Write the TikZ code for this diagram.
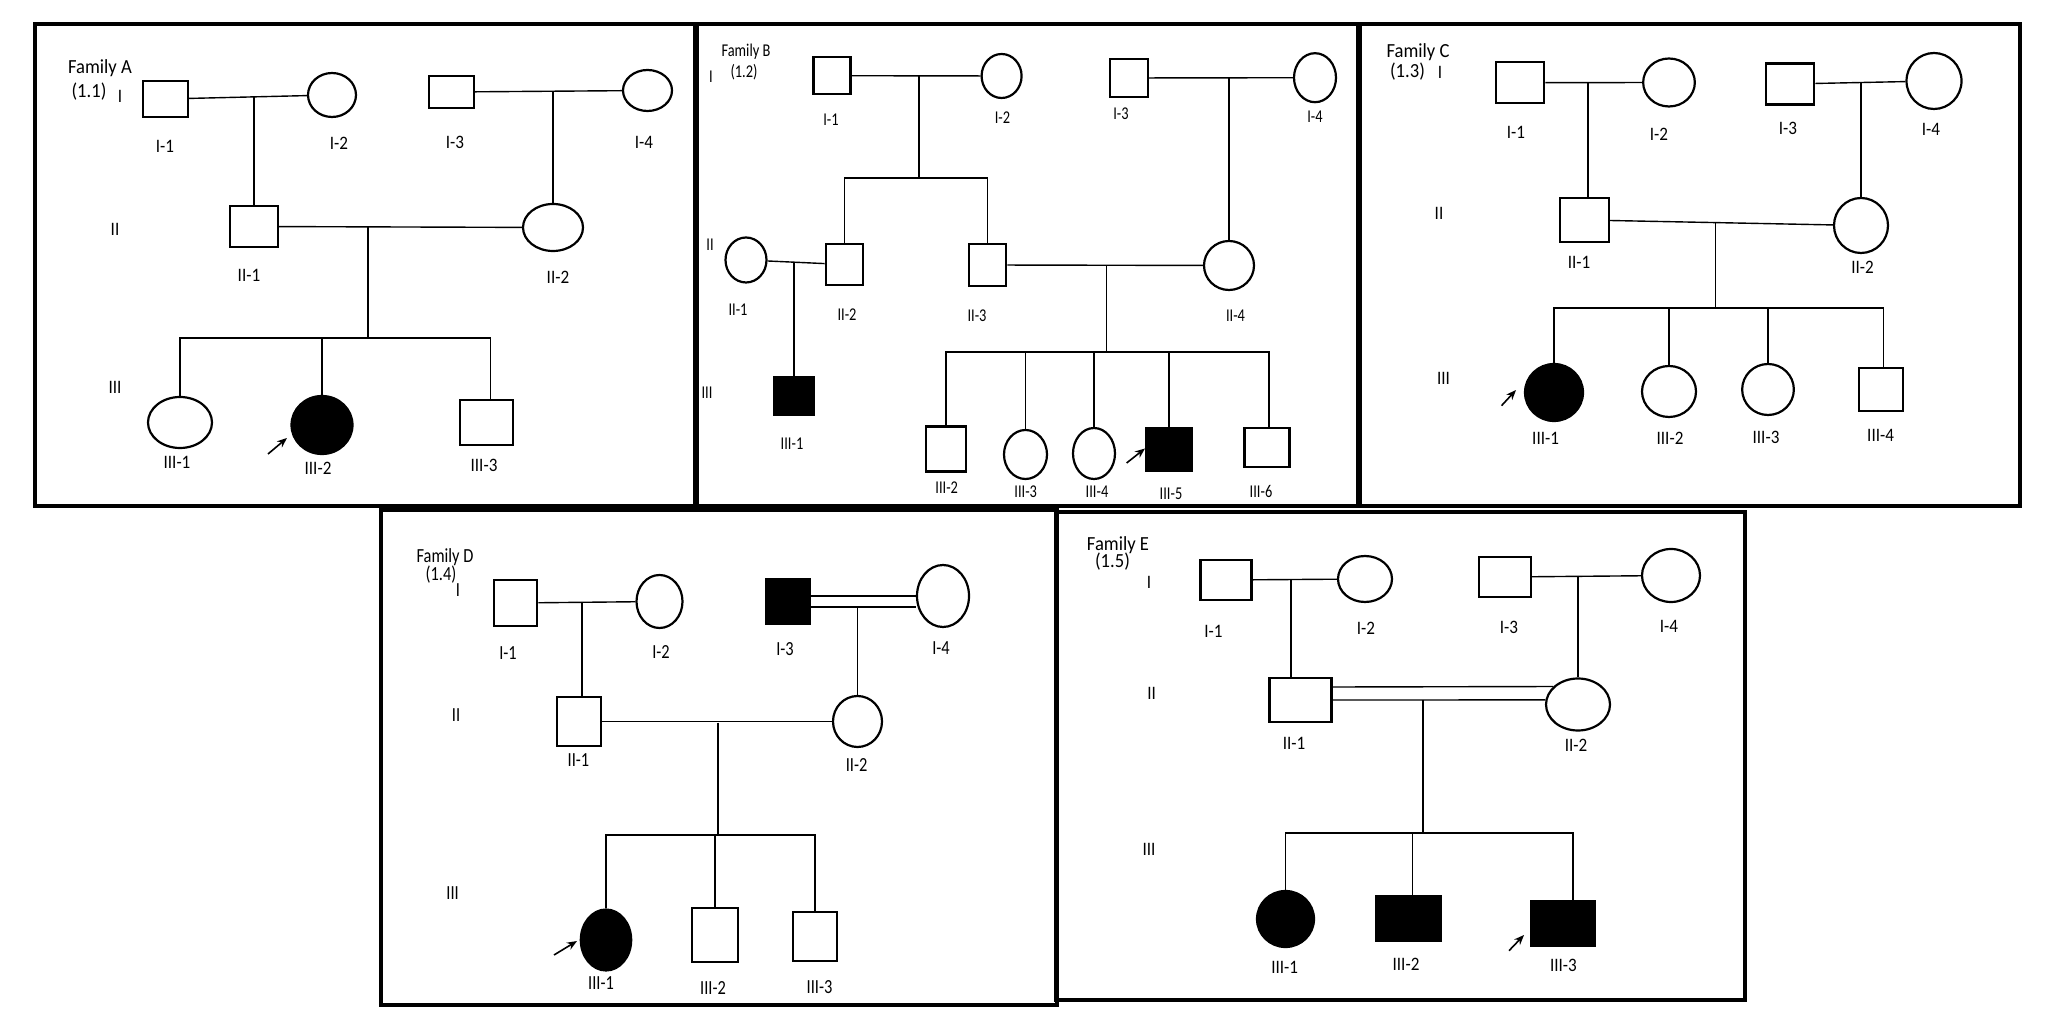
\documentclass[tikz,border=0pt]{standalone}
\usepackage{fontspec}
\setmainfont{Carlito}
\usetikzlibrary{shapes.geometric,arrows.meta}
\begin{document}
\begin{tikzpicture}[x=0.5pt,y=-0.5pt,
  sq/.style 2 args={draw,rectangle,line width=1.1pt,inner sep=0pt,minimum width=#1*0.5pt,minimum height=#2*0.5pt},
  fsq/.style 2 args={sq={#1}{#2},fill=black},
  ci/.style 2 args={draw,ellipse,line width=1.1pt,inner sep=0pt,minimum width=#1*0.5pt,minimum height=#2*0.5pt},
  fci/.style 2 args={ci={#1}{#2},fill=black},
  ln/.style={line width=0.7pt},
  frame/.style={line width=2.3pt},
  arr/.style={line width=0.8pt,-{Stealth[length=5pt,width=4pt]}},
  lbl/.style={inner sep=0pt,font=\fontsize{9.5}{10}\selectfont,xscale=0.9},
  lblB/.style={inner sep=0pt,font=\fontsize{9}{10}\selectfont,xscale=0.8},
  lblD/.style={inner sep=0pt,font=\fontsize{10}{10}\selectfont,xscale=0.82},
  ttl/.style={inner sep=0pt,font=\fontsize{10}{10}\selectfont,xscale=0.93},
]
\useasboundingbox (0,0) rectangle (2055,1020);
% frames
\draw[frame] (35,24) rectangle (695,506);
\draw[frame] (697,24) rectangle (1358,506);
\draw[frame] (1360,24) rectangle (2020,506);
\draw[frame] (381,510) rectangle (1057,1005);
\draw[frame] (1056,512) rectangle (1745,1000);

% ================= Family A =================
\node[ttl] (tA) at (100,68) {Family A};
\node[ttl] (tA2) at (89,92) {(1.1)};
\node[lbl] (gA1) at (120,96) {I};
\node[lbl] (gA2) at (115,229) {II};
\node[lbl] (gA3) at (115,387) {III};
\node[sq={45}{36}] (A11) at (165.5,99) {};
\node[ci={48}{44}] (A12) at (332,95) {};
\node[sq={45}{32}] (A13) at (451.5,92) {};
\node[ci={49}{41}] (A14) at (647.5,90.5) {};
\node[sq={48}{41}] (A21) at (254,226.5) {};
\node[ci={60}{47}] (A22) at (553,227.5) {};
\node[ci={64}{51}] (A31) at (180,422.5) {};
\node[fci={61}{58}] (A32) at (322,425) {};
\node[sq={53}{45}] (A33) at (486.5,422.5) {};
\draw[ln] (A11) -- (A12);
\draw[ln] (A13) -- (A14);
\coordinate (mA1) at (254,97);
\coordinate (mA2) at (553,92);
\draw[ln] (mA1) -- (A21.north);
\draw[ln] (mA2) -- (A22.north);
\draw[ln] (A21) -- (A22);
\coordinate (mA3) at (368,227);
\coordinate (sA) at (368,338);
\draw[ln] (mA3) -- (sA);
\draw[ln] (A31.north) |- (sA);
\draw[ln] (A32.north) |- (sA);
\draw[ln] ([xshift=2pt]A33.north) |- (sA);
\coordinate (arA1) at (268,454);
\coordinate (arA2) at (287,438);
\draw[arr] (arA1) -- (arA2);
\node[lbl] (lA11) at (165,146) {I-1};
\node[lbl] (lA12) at (339,143) {I-2};
\node[lbl] (lA13) at (455,142) {I-3};
\node[lbl] (lA14) at (644,142) {I-4};
\node[lbl] (lA21) at (249,275) {II-1};
\node[lbl] (lA22) at (558,277) {II-2};
\node[lbl] (lA31) at (177,462) {III-1};
\node[lbl] (lA32) at (318,468) {III-2};
\node[lbl] (lA33) at (484,465) {III-3};

% ================= Family B =================
\node[lblB] (tB) at (746,52) {Family B};
\node[lblB] (tB2) at (744,72) {(1.2)};
\node[lblB] (gB1) at (711,77) {I};
\node[lblB] (gB2) at (710,245) {II};
\node[lblB] (gB3) at (707,393) {III};
\node[sq={37}{37}] (B11) at (832,75.7) {};
\node[ci={40}{44}] (B12) at (1001.6,76) {};
\node[sq={37.5}{38}] (B13) at (1129,78) {};
\node[ci={42}{49}] (B14) at (1315,77.7) {};
\node[ci={41}{45}] (B21) at (746,260) {};
\node[sq={37.5}{41}] (B22) at (844.5,264.5) {};
\node[sq={37.5}{42}] (B23) at (987.5,265) {};
\node[ci={50}{49}] (B24) at (1229,265.5) {};
\node[fsq={39}{38}] (B31) at (794,396) {};
\node[sq={40}{45}] (B32) at (946,449) {};
\node[ci={43}{49}] (B33) at (1025.5,454.5) {};
\node[ci={42}{51}] (B34) at (1094,453.5) {};
\node[fsq={46}{43}] (B35) at (1169,449.5) {};
\node[sq={45}{39}] (B36) at (1267,447.5) {};
\draw[ln] (B11) -- (B12);
\coordinate (mB1) at (919,76.5);
\coordinate (sB1) at (919,178);
\draw[ln] (mB1) -- (sB1);
\draw[ln] (B22.north) |- (sB1);
\draw[ln] (B23.north) |- (sB1);
\draw[ln] (B13) -- (B14);
\coordinate (mB2) at (1229,78);
\draw[ln] (mB2) -- (B24.north);
\draw[ln] (B21) -- (B22);
\coordinate (mB3) at (794,262);
\draw[ln] (mB3) -- (B31.north);
\draw[ln] (B23) -- (B24);
\coordinate (mB4) at (1106.5,265.3);
\coordinate (sB2) at (1106.5,352);
\draw[ln] (mB4) -- (sB2);
\draw[ln] (B32.north) |- (sB2);
\draw[ln] (B33.north) |- (sB2);
\draw[ln] (B34.north) |- (sB2);
\draw[ln] (B35.north) |- (sB2);
\draw[ln] ([xshift=1pt]B36.north) |- (sB2);
\coordinate (arB1) at (1126.6,463);
\coordinate (arB2) at (1145,448.5);
\draw[arr] (arB1) -- (arB2);
\node[lblB] (lB11) at (831,120) {I-1};
\node[lblB] (lB12) at (1002.5,118) {I-2};
\node[lblB] (lB13) at (1121,114) {I-3};
\node[lblB] (lB14) at (1315,117) {I-4};
\node[lblB] (lB21) at (738,310) {II-1};
\node[lblB] (lB22) at (847,315) {II-2};
\node[lblB] (lB23) at (977,316) {II-3};
\node[lblB] (lB24) at (1235.5,316) {II-4};
\node[lblB] (lB31) at (792,444) {III-1};
\node[lblB] (lB32) at (946.7,488) {III-2};
\node[lblB] (lB33) at (1025.7,492) {III-3};
\node[lblB] (lB34) at (1097,492) {III-4};
\node[lblB] (lB35) at (1171,494) {III-5};
\node[lblB] (lB36) at (1261,491) {III-6};

% ================= Family C =================
\node[ttl] (tC) at (1418,52) {Family C};
\node[ttl] (tC2) at (1407.5,72) {(1.3)};
\node[lbl] (gC1) at (1440,72) {I};
\node[lbl] (gC2) at (1439,213) {II};
\node[lbl] (gC3) at (1443.5,378) {III};
\node[sq={48.6}{41}] (C11) at (1520,82.7) {};
\node[ci={51.7}{48}] (C12) at (1669,82.5) {};
\node[sq={48.6}{41}] (C13) at (1790,84) {};
\node[ci={55}{56}] (C14) at (1934,81) {};
\node[sq={49}{44}] (C21) at (1584.5,220) {};
\node[ci={54}{55}] (C22) at (1861,225.5) {};
\node[fci={58}{57}] (C31) at (1554,392.5) {};
\node[ci={54}{51}] (C32) at (1669,391.5) {};
\node[ci={51.7}{51}] (C33) at (1768,389.5) {};
\node[sq={43.6}{43}] (C34) at (1881,389.5) {};
\draw[ln] (C11) -- (C12);
\draw[ln] (C13) -- (C14);
\coordinate (mC1) at (1588,83);
\draw[ln] (mC1) -- (mC1 |- C21.north);
\coordinate (mC2) at (1861,83);
\draw[ln] (mC2) -- (C22.north);
\draw[ln] (C21) -- (C22);
\coordinate (mC3) at (1715.6,222.5);
\coordinate (sC) at (1715.6,308);
\draw[ln] (mC3) -- (sC);
\draw[ln] (C31.north) |- (sC);
\draw[ln] (C32.north) |- (sC);
\draw[ln] (C33.north) |- (sC);
\draw[ln] ([xshift=1.3pt]C34.north) |- (sC);
\coordinate (arC1) at (1501.5,405.7);
\coordinate (arC2) at (1516,390);
\draw[arr] (arC1) -- (arC2);
\node[lbl] (lC11) at (1516,132) {I-1};
\node[lbl] (lC12) at (1659,134) {I-2};
\node[lbl] (lC13) at (1788,128) {I-3};
\node[lbl] (lC14) at (1931,129) {I-4};
\node[lbl] (lC21) at (1579,262) {II-1};
\node[lbl] (lC22) at (1862.6,267) {II-2};
\node[lbl] (lC31) at (1545.6,438) {III-1};
\node[lbl] (lC32) at (1670,438) {III-2};
\node[lbl] (lC33) at (1766,437) {III-3};
\node[lbl] (lC34) at (1880.6,435) {III-4};

% ================= Family D =================
\node[lblD] (tD) at (445,557) {Family D};
\node[lblD] (tD2) at (441,575) {(1.4)};
\node[lblD] (gD1) at (458,590) {I};
\node[lblD] (gD2) at (456,715) {II};
\node[lblD] (gD3) at (452.6,893) {III};
\node[sq={43}{46}] (D11) at (515.7,603) {};
\node[ci={46}{53}] (D12) at (659.5,601.5) {};
\node[fsq={44}{45}] (D13) at (788,601.5) {};
\node[ci={52}{62}] (D14) at (943,596) {};
\node[sq={44}{49}] (D21) at (579,721.5) {};
\node[ci={49}{51}] (D22) at (857.5,721.5) {};
\node[fci={50.4}{61}] (D31) at (606,940) {};
\node[sq={46}{54}] (D32) at (715,935) {};
\node[sq={43.5}{49}] (D33) at (815,936.5) {};
\draw[ln] (D11) -- (D12);
\coordinate (mD1) at (582,603);
\draw[ln] (mD1) -- (mD1 |- D21.north);
\path ([yshift=2.75pt]D13.east) coordinate (dDa);
\path ([yshift=-2.75pt]D13.east) coordinate (dDb);
\draw[ln] (dDa) -- (dDa -| D14.west);
\draw[ln] (dDb) -- (dDb -| D14.west);
\coordinate (mD2) at (857.5,607);
\draw[ln] (mD2) -- (D22.north);
\draw[ln] (D21) -- (D22);
\coordinate (mD3) at (718,722.5);
\coordinate (sD) at (718,835);
\draw[ln] (mD3) -- (sD);
\draw[ln] (D31.north) |- (sD);
\draw[ln] (D32.north) |- (sD);
\draw[ln] (D33.north) |- (sD);
\coordinate (arD1) at (554,955);
\coordinate (arD2) at (577,941);
\draw[arr] (arD1) -- (arD2);
\node[lblD] (lD11) at (508,652.7) {I-1};
\node[lblD] (lD12) at (661,651.7) {I-2};
\node[lblD] (lD13) at (785,649) {I-3};
\node[lblD] (lD14) at (941,648) {I-4};
\node[lblD] (lD21) at (578.5,760) {II-1};
\node[lblD] (lD22) at (856.6,765) {II-2};
\node[lblD] (lD31) at (601,983) {III-1};
\node[lblD] (lD32) at (713,988) {III-2};
\node[lblD] (lD33) at (819.5,987) {III-3};

% ================= Family E =================
\node[ttl] (tE) at (1118,545) {Family E};
\node[ttl] (tE2) at (1112.5,562) {(1.5)};
\node[lbl] (gE1) at (1149,582) {I};
\node[lbl] (gE2) at (1151.6,693) {II};
\node[lbl] (gE3) at (1149,849) {III};
\node[sq={51}{40}] (E11) at (1226,580) {};
\node[ci={54}{46}] (E12) at (1365,579) {};
\node[sq={52}{40}] (E13) at (1505,577) {};
\node[ci={58}{53}] (E14) at (1671,575.5) {};
\node[sq={62}{44}] (E21) at (1300.5,700) {};
\node[ci={64}{52}] (E22) at (1578,704.5) {};
\node[fci={57}{56}] (E31) at (1285.5,919) {};
\node[fsq={65}{45}] (E32) at (1408.5,918.5) {};
\node[fsq={63}{45}] (E33) at (1563,923.5) {};
\draw[ln] (E11) -- (E12);
\coordinate (mE1) at (1291,580);
\draw[ln] (mE1) -- (mE1 |- E21.north);
\draw[ln] (E13) -- (E14);
\coordinate (mE2) at (1578,576);
\draw[ln] (mE2) -- (E22.north);
\draw[ln] ([yshift=6.5pt]E21.east) -- (E22.144);
\draw[ln] (E21.east) -- (E22.172);
\coordinate (mE3) at (1423,700);
\coordinate (sE) at (1423,833);
\draw[ln] (mE3) -- (sE);
\draw[ln] (E31.north) |- (sE);
\draw[ln] ([xshift=2pt]E32.north) |- (sE);
\draw[ln] ([xshift=5pt]E33.north) |- (sE);
\coordinate (arE1) at (1509,950.7);
\coordinate (arE2) at (1524,935);
\draw[arr] (arE1) -- (arE2);
\node[lbl] (lE11) at (1213.5,631.7) {I-1};
\node[lbl] (lE12) at (1366,628) {I-2};
\node[lbl] (lE13) at (1509,627) {I-3};
\node[lbl] (lE14) at (1669,626) {I-4};
\node[lbl] (lE21) at (1294,743) {II-1};
\node[lbl] (lE22) at (1576,745) {II-2};
\node[lbl] (lE31) at (1284.7,967) {III-1};
\node[lbl] (lE32) at (1406,964) {III-2};
\node[lbl] (lE33) at (1563.4,965) {III-3};
\end{tikzpicture}
\end{document}
